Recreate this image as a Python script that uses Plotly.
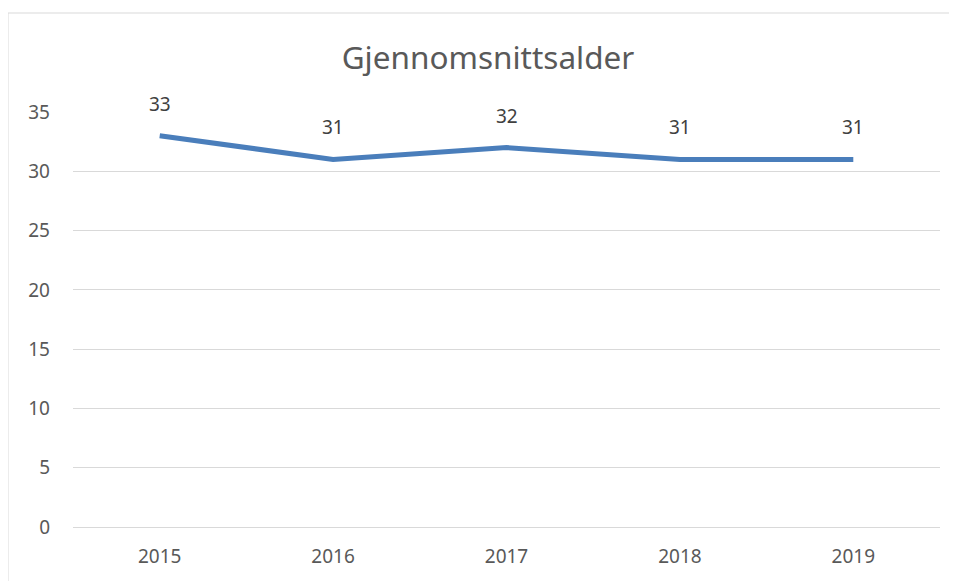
import plotly.graph_objects as go

years = ["2015", "2016", "2017", "2018", "2019"]
avg_age = [33, 31, 32, 31, 31]
y_ticks = [0, 5, 10, 15, 20, 25, 30, 35]

# page has an 8px body margin; figure sized to fit the window
W, H = 949, 573
L, R, T, B = 65, 17, 104, 54
pw, ph = W - L - R, H - T - B

fig = go.Figure()
fig.add_trace(go.Scatter(
    x=years, y=avg_age, mode="lines",
    line=dict(color="#4A7EBB", width=5, shape="linear"),
    hoverinfo="x+y", showlegend=False, cliponaxis=False,
))
for i, yv in enumerate(avg_age):
    fig.add_annotation(x=i, y=yv, xref="x", yref="y", text=str(yv),
                       showarrow=False, yshift=32,
                       font=dict(size=19, color="#404040", family="Noto Sans"))

fig.add_shape(type="rect", xref="paper", yref="paper",
              x0=(0 - L) / pw, x1=(W + 30 - L) / pw,
              y0=(H - B - (H + 30)) / ph, y1=(H - B - 5) / ph,
              line=dict(color="#D9D9D9", width=1), fillcolor="rgba(0,0,0,0)",
              layer="below")

fig.update_layout(
    width=W, height=H,
    margin=dict(l=L, r=R, t=T, b=B),
    paper_bgcolor="white", plot_bgcolor="white",
    title=dict(text="Gjennomsnittsalder", xref="container", x=480 / W,
               xanchor="center", y=1 - 50 / H, yanchor="middle",
               font=dict(size=31.5, color="#595959", family="Noto Sans")),
    font=dict(family="Noto Sans", color="#595959", size=19),
    xaxis=dict(type="category", range=[-0.5, 4.5], showgrid=False,
               showline=False, zeroline=False, ticks="",
               ticklabelstandoff=16,
               tickfont=dict(size=19, color="#595959")),
    yaxis=dict(range=[0, 35], tickvals=y_ticks, showgrid=True,
               gridcolor="#D9D9D9", gridwidth=1, zeroline=True,
               zerolinecolor="#D9D9D9", zerolinewidth=1,
               showline=False, ticks="", ticklabelstandoff=22,
               tickfont=dict(size=19, color="#595959")),
)
fig.write_html("out.html")
